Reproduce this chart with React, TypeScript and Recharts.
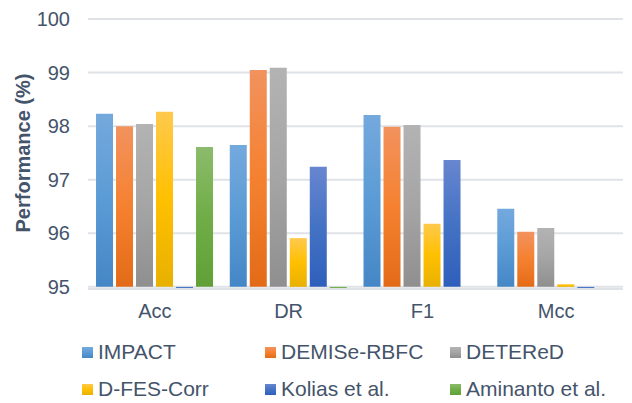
import React from 'react';
import { BarChart, Bar, XAxis, YAxis, CartesianGrid, Legend } from 'recharts';

const categories = ['Acc', 'DR', 'F1', 'Mcc'];
const impact = [98.23, 97.65, 98.21, 96.46];
const demise = [98.0, 99.05, 97.99, 96.03];
const detered = [98.04, 99.09, 98.02, 96.1];
const dfes = [98.27, 95.91, 96.18, 95.05];
const kolias = [94.98, 97.24, 97.37, 94.98];
const aminanto = [97.61, 94.98, null, null];
const yTicks = [95, 96, 97, 98, 99, 100];

const BASE = 95;
const TEXT = '#44546A';
const FONT = '"Liberation Sans", Arial, sans-serif';

const series = [
  { key: 'impact', name: 'IMPACT', values: impact, top: '#74a9dd', mid: '#5b9bd5', bottom: '#4586c6' },
  { key: 'demise', name: 'DEMISe-RBFC', values: demise, top: '#f2925e', mid: '#f58130', bottom: '#e36b18' },
  { key: 'detered', name: 'DETEReD', values: detered, top: '#b3b3b3', mid: '#a5a5a5', bottom: '#8f8f8f' },
  { key: 'dfes', name: 'D-FES-Corr', values: dfes, top: '#ffc94d', mid: '#ffc000', bottom: '#e8b000' },
  { key: 'kolias', name: 'Kolias et al.', values: kolias, top: '#6886d0', mid: '#4472c4', bottom: '#2e5fbb' },
  { key: 'aminanto', name: 'Aminanto et al.', values: aminanto, top: '#8cbb6b', mid: '#70ad47', bottom: '#61a036' },
];

// range bars [95, value] so tiny values under 95 hang just below the axis like the original
const data = categories.map((c, i) => {
  const row: any = { name: c };
  series.forEach(s => {
    const v = s.values[i];
    row[s.key] = v == null ? null : [BASE, v];
  });
  return row;
});

const legendCols = [82, 265, 450];
const legendRows = [8, 45];

function LegendBox() {
  return (
    <div style={{ position: 'relative', width: 632, height: 70, fontFamily: FONT, fontSize: 21, color: TEXT }}>
      {series.map((s, i) => (
        <div
          key={s.key}
          style={{
            position: 'absolute',
            left: legendCols[i % 3],
            top: legendRows[Math.floor(i / 3)],
            display: 'flex',
            alignItems: 'center',
            whiteSpace: 'nowrap',
            lineHeight: '22px',
          }}
        >
          <span
            style={{
              display: 'inline-block',
              width: 11,
              height: 11,
              marginRight: 5,
              background: `linear-gradient(${s.top}, ${s.mid}, ${s.bottom})`,
            }}
          />
          {s.name}
        </div>
      ))}
    </div>
  );
}

export default function App() {
  return (
    <div style={{ position: 'absolute', left: 0, top: 0, background: '#fff' }}>
      <BarChart
        width={632}
        height={403}
        data={data}
        margin={{ top: 19, right: 9, left: 0, bottom: 0 }}
        barCategoryGap="6%"
        barGap={3}
      >
        <defs>
          {series.map(s => (
            <linearGradient key={s.key} id={`g-${s.key}`} x1="0" y1="0" x2="0" y2="1">
              <stop offset="0%" stopColor={s.top} />
              <stop offset="50%" stopColor={s.mid} />
              <stop offset="100%" stopColor={s.bottom} />
            </linearGradient>
          ))}
        </defs>
        <CartesianGrid vertical={false} stroke="#dfe2e7" strokeWidth={2} />
        <XAxis
          dataKey="name"
          axisLine={false}
          tickLine={false}
          height={44}
          tickMargin={9}
          tick={{ fill: TEXT, fontSize: 20, fontFamily: FONT }}
        />
        <YAxis
          domain={[94.96, 100]}
          ticks={yTicks}
          width={88}
          axisLine={false}
          tickLine={false}
          tickMargin={12}
          tick={{ fill: TEXT, fontSize: 20, fontFamily: FONT }}
          label={({ viewBox }: any) => {
            const cx = 23;
            const cy = viewBox.y + viewBox.height / 2 - 1;
            return (
              <text
                x={cx}
                y={cy}
                transform={`rotate(-90 ${cx} ${cy})`}
                textAnchor="middle"
                dominantBaseline="central"
                fill={TEXT}
                fontSize={20}
                fontWeight="bold"
                fontFamily={FONT}
              >
                Performance (%)
              </text>
            );
          }}
        />
        <Legend
          verticalAlign="bottom"
          height={70}
          wrapperStyle={{ left: 0, bottom: 0, width: 632, height: 70 }}
          content={() => <LegendBox />}
        />
        {series.map(s => (
          <Bar key={s.key} dataKey={s.key} name={s.name} fill={`url(#g-${s.key})`} isAnimationActive={false} />
        ))}
      </BarChart>
    </div>
  );
}
